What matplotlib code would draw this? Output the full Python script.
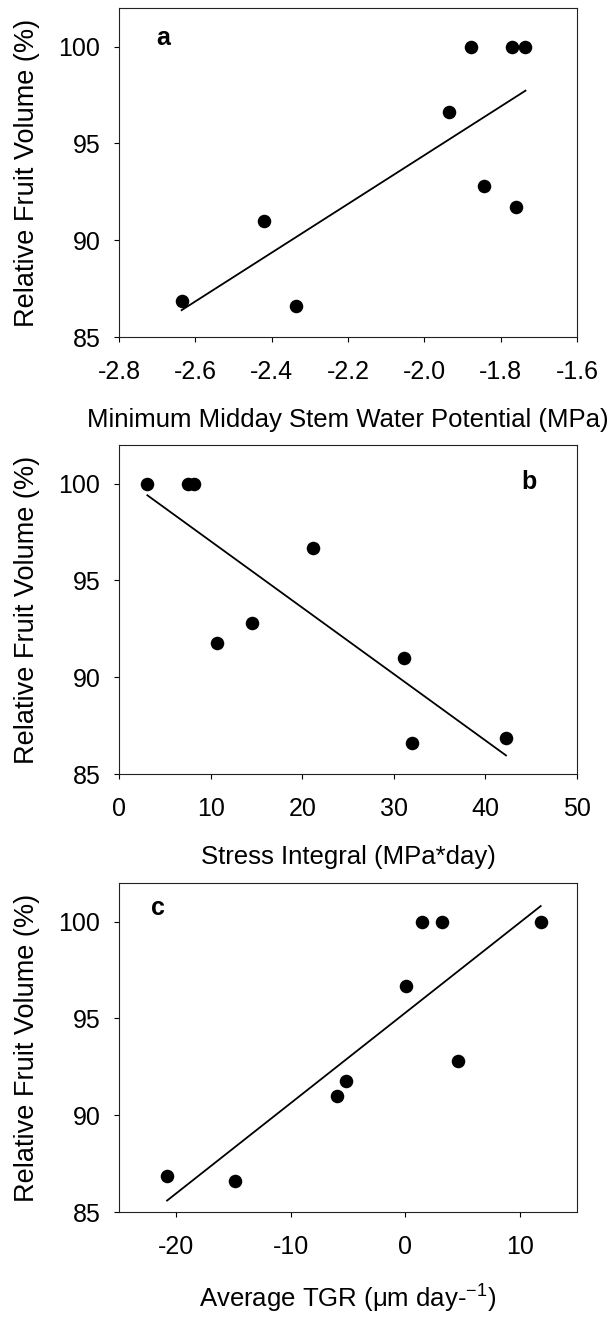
import numpy as np
import matplotlib
matplotlib.use("Agg")
import matplotlib.pyplot as plt

plt.rcParams['font.family'] = ['Liberation Sans', 'DejaVu Sans']
plt.rcParams['mathtext.fontset'] = 'custom'
plt.rcParams['mathtext.rm'] = 'Liberation Sans'
plt.rcParams['mathtext.it'] = 'Liberation Sans:italic'

# Relative fruit volume (%) for the nine trees
rfv_a = [86.86, 91.0, 86.6, 96.65, 100.0, 92.78, 100.0, 100.0, 91.74]
swp_a = [-2.636, -2.419, -2.335, -1.936, -1.877, -1.843, -1.769, -1.735, -1.760]

rfv_b = [100.0, 100.0, 100.0, 91.75, 92.78, 96.67, 91.0, 86.59, 86.84]
stress_b = [3.1, 7.57, 8.2, 10.66, 14.55, 21.14, 31.15, 31.95, 42.25]

rfv_c = [86.85, 86.6, 91.0, 91.76, 96.66, 100.0, 100.0, 92.79, 100.0]
tgr_c = [-20.8, -14.9, -6.0, -5.17, 0.1, 1.49, 3.2, 4.6, 11.83]

yticks = [85, 90, 95, 100]
xticks_a = [-2.8, -2.6, -2.4, -2.2, -2.0, -1.8, -1.6]
xticks_b = [0, 10, 20, 30, 40, 50]
xticks_c = [-20, -10, 0, 10]

xlabel_a = "Minimum Midday Stem Water Potential (MPa)"
xlabel_b = "Stress Integral (MPa*day)"
xlabel_c = "Average TGR (μm day-$^{\\mathregular{-1}}$)"
ylabel = "Relative Fruit Volume (%)"

W, H = 611, 1318
fig = plt.figure(figsize=(W / 100, H / 100), dpi=100)

def px_axes(left, top, right, bottom):
    return fig.add_axes([left / W, 1 - bottom / H, (right - left) / W, (bottom - top) / H])

panels = [
    (8, 337, swp_a, rfv_a, (-2.8, -1.6), xticks_a, ["%.1f" % t for t in xticks_a], xlabel_a, "a", (0.096, 0.909)),
    (445, 774, stress_b, rfv_b, (0, 50), xticks_b, [str(t) for t in xticks_b], xlabel_b, "b", (0.895, 0.888)),
    (883, 1212, tgr_c, rfv_c, (-25, 15), xticks_c, [str(t) for t in xticks_c], xlabel_c, "c", (0.085, 0.924)),
]

FS = 18
for top, bottom, xs, ys, xlim, xt, xtl, xl, letter, lpos in panels:
    ax = px_axes(119, top, 577, bottom)
    ax.scatter(xs, ys, s=95, color='black', zorder=3, linewidths=0)
    k, b0 = np.polyfit(xs, ys, 1)
    xx = np.array([min(xs), max(xs)])
    ax.plot(xx, k * xx + b0, color='black', lw=1.3)
    ax.set_xlim(*xlim)
    ax.set_ylim(85, 102)
    ax.set_xticks(xt)
    ax.set_xticklabels(xtl)
    ax.set_yticks(yticks)
    ax.tick_params(direction='out', length=3.5, width=0.8, labelsize=FS, colors='black')
    ax.tick_params(axis='x', pad=13)
    ax.tick_params(axis='y', pad=10)
    for sp in ax.spines.values():
        sp.set_linewidth(0.8)
        sp.set_color('#222222')
    ax.set_ylabel(ylabel, fontsize=19.5, labelpad=13)
    ax.set_xlabel(xl, fontsize=18.5, labelpad=17)
    ax.text(lpos[0], lpos[1], letter, transform=ax.transAxes, fontsize=FS,
            fontweight='bold', ha='center', va='center')

fig.savefig("out.png", dpi=100)
